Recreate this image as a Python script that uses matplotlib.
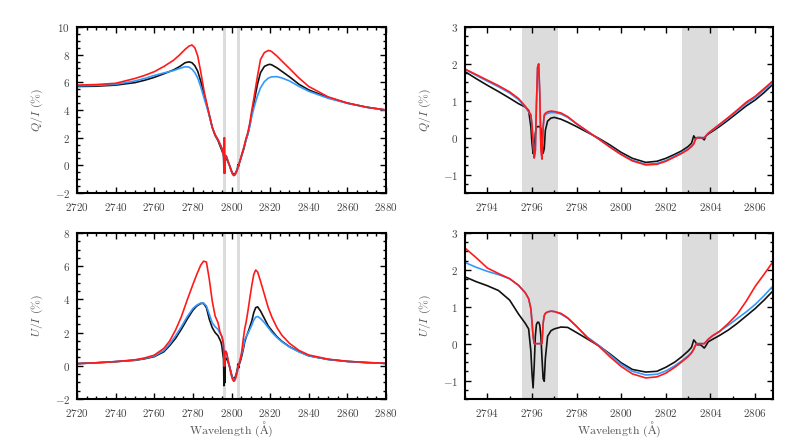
import numpy as np
import matplotlib
matplotlib.use("Agg")
import matplotlib.pyplot as plt
from matplotlib.ticker import MultipleLocator, AutoMinorLocator

plt.rcParams['font.family'] = 'serif'
plt.rcParams['font.serif'] = ['cmr10', 'DejaVu Serif']
plt.rcParams['mathtext.fontset'] = 'cm'
plt.rcParams['axes.formatter.use_mathtext'] = True
plt.rcParams['axes.unicode_minus'] = True

# --- wavelength grids (Angstrom) ---
wl_q_left = [2720, 2730, 2740, 2750, 2755, 2760, 2765, 2770, 2773, 2776, 2778, 2779.5,
             2781, 2782.5, 2784, 2786, 2788, 2790, 2791.5]
wl_u_left = [2720, 2730, 2740, 2750, 2755, 2760, 2765, 2768, 2771, 2774, 2777, 2780,
             2782, 2784, 2785.5, 2787, 2788.5, 2790, 2791.5]
wl_core = [2793.0, 2793.5, 2794.0, 2794.5, 2795.0, 2795.4, 2795.7, 2795.85, 2795.95,
           2796.0, 2796.05, 2796.1, 2796.15, 2796.2, 2796.25, 2796.3, 2796.35, 2796.4,
           2796.45, 2796.5, 2796.55, 2796.6, 2796.7, 2796.85, 2797.0, 2797.3, 2797.6,
           2798.0, 2798.5, 2799.0, 2799.5, 2800.0, 2800.5, 2801.1, 2801.6, 2802.0,
           2802.4, 2802.7, 2803.0, 2803.15, 2803.25, 2803.32, 2803.4, 2803.55, 2803.65,
           2803.72, 2803.8, 2803.9, 2804.1, 2804.4, 2804.8, 2805.2, 2805.6, 2806.0,
           2806.4, 2806.8]
wl_q_right = [2807.5, 2808.5, 2809.5, 2810.5, 2811.5, 2812.5, 2813.5, 2815, 2817, 2819,
              2820, 2821, 2823.5, 2826, 2830, 2835, 2840, 2850, 2860, 2870, 2880]
wl_u_right = [2807.5, 2808.5, 2809.5, 2810.5, 2811.5, 2812.5, 2813.5, 2815, 2817, 2819,
              2821, 2823.5, 2826, 2830, 2835, 2840, 2850, 2860, 2870, 2880]

# --- Q/I (%) ---
q_red_left = [5.80, 5.84, 5.93, 6.28, 6.50, 6.77, 7.15, 7.60, 7.97, 8.39, 8.62, 8.70,
              8.50, 7.90, 6.80, 5.20, 3.95, 2.75, 2.22]
q_black_left = [5.70, 5.72, 5.80, 5.98, 6.15, 6.36, 6.62, 6.90, 7.13, 7.42, 7.48, 7.42,
                7.20, 6.80, 6.10, 5.00, 3.90, 2.75, 2.15]
q_blue_left = [5.75, 5.78, 5.86, 6.10, 6.28, 6.50, 6.68, 6.85, 7.00, 7.13, 7.10, 6.95,
               6.70, 6.30, 5.70, 4.75, 3.85, 2.75, 2.20]

q_red_core = [1.86, 1.71, 1.56, 1.41, 1.24, 1.06, 0.85, 0.72, 0.62,
              0.35, -0.10, -0.55, -0.35, 0.90, 1.90, 2.00, 1.20, -0.30,
              -0.58, 0.30, 0.62, 0.66, 0.70, 0.72, 0.71, 0.67, 0.57,
              0.38, 0.17, -0.04, -0.26, -0.46, -0.63, -0.74, -0.72, -0.64,
              -0.52, -0.43, -0.32, -0.24, -0.17, -0.05, 0.00, 0.00, 0.00,
              0.00, 0.05, 0.12, 0.22, 0.36, 0.55, 0.75, 0.96, 1.12,
              1.33, 1.54]
q_blue_core = [1.85, 1.69, 1.53, 1.38, 1.21, 1.03, 0.83, 0.70, 0.60,
               0.33, -0.10, -0.55, -0.35, 0.90, 1.90, 2.00, 1.20, -0.30,
               -0.58, 0.28, 0.58, 0.62, 0.66, 0.68, 0.68, 0.64, 0.55,
               0.37, 0.16, -0.04, -0.25, -0.45, -0.61, -0.72, -0.70, -0.62,
               -0.50, -0.41, -0.30, -0.23, -0.16, -0.05, 0.00, 0.00, 0.00,
               0.00, 0.05, 0.12, 0.21, 0.34, 0.53, 0.72, 0.92, 1.08,
               1.29, 1.50]
q_black_core = [1.79, 1.60, 1.42, 1.25, 1.07, 0.92, 0.83, 0.74, 0.30,
                -0.15, -0.43, -0.30, 0.10, 0.28, 0.30, 0.30, 0.30, 0.25,
                -0.10, -0.42, -0.30, 0.20, 0.45, 0.53, 0.55, 0.50, 0.42,
                0.30, 0.14, -0.02, -0.20, -0.40, -0.56, -0.67, -0.64, -0.56,
                -0.45, -0.36, -0.24, -0.15, 0.05, -0.02, 0.00, 0.00, -0.02,
                -0.06, 0.05, 0.10, 0.18, 0.30, 0.48, 0.67, 0.86, 1.02,
                1.22, 1.45]

q_red_right = [1.95, 2.40, 3.10, 4.00, 4.80, 5.65, 6.50, 7.65, 8.15, 8.30, 8.28, 8.20,
               7.90, 7.55, 7.00, 6.30, 5.70, 4.95, 4.50, 4.20, 4.00]
q_black_right = [1.85, 2.30, 2.95, 3.75, 4.45, 5.20, 5.90, 6.70, 7.15, 7.28, 7.30, 7.25,
                 7.05, 6.80, 6.40, 5.85, 5.45, 4.90, 4.50, 4.20, 4.00]
q_blue_right = [1.85, 2.25, 2.85, 3.55, 4.10, 4.60, 5.05, 5.60, 6.05, 6.30, 6.36, 6.40,
                6.41, 6.32, 6.10, 5.70, 5.35, 4.85, 4.48, 4.20, 3.98]

# --- U/I (%) ---
u_red_left = [0.13, 0.18, 0.25, 0.36, 0.47, 0.64, 1.05, 1.50, 2.15, 2.95, 3.95, 4.90,
              5.50, 6.05, 6.30, 6.25, 5.20, 3.90, 3.00]
u_blue_left = [0.13, 0.18, 0.25, 0.34, 0.44, 0.58, 0.92, 1.32, 1.80, 2.35, 2.95, 3.45,
               3.65, 3.78, 3.78, 3.60, 3.10, 2.60, 2.35]
u_black_left = [0.13, 0.18, 0.25, 0.33, 0.42, 0.55, 0.85, 1.22, 1.65, 2.20, 2.80, 3.35,
                3.60, 3.75, 3.76, 3.50, 2.80, 2.30, 2.00]

u_red_core = [2.59, 2.33, 2.05, 1.90, 1.76, 1.58, 1.38, 1.22, 0.95,
              0.60, 0.20, 0.00, 0.00, 0.00, 0.00, 0.00, 0.00, 0.00,
              0.00, 0.55, 0.76, 0.82, 0.86, 0.88, 0.87, 0.82, 0.70,
              0.47, 0.15, -0.07, -0.36, -0.62, -0.82, -0.93, -0.90, -0.80,
              -0.64, -0.50, -0.35, -0.25, -0.15, -0.05, 0.00, 0.00, 0.00,
              0.00, 0.05, 0.12, 0.22, 0.33, 0.55, 0.80, 1.15, 1.55,
              1.88, 2.22]
u_blue_core = [2.20, 2.07, 1.96, 1.87, 1.76, 1.58, 1.38, 1.22, 0.95,
               0.60, 0.20, 0.00, 0.00, 0.00, 0.00, 0.00, 0.00, 0.00,
               0.00, 0.55, 0.76, 0.82, 0.86, 0.88, 0.87, 0.80, 0.69,
               0.46, 0.17, -0.05, -0.31, -0.56, -0.75, -0.85, -0.83, -0.74,
               -0.60, -0.47, -0.33, -0.24, -0.15, -0.05, 0.00, 0.00, 0.00,
               0.00, 0.05, 0.12, 0.21, 0.33, 0.50, 0.68, 0.86, 1.06,
               1.30, 1.56]
u_black_core = [1.81, 1.68, 1.57, 1.44, 1.18, 0.80, 0.55, 0.40, -0.20,
                -0.80, -1.20, -0.60, 0.20, 0.52, 0.58, 0.58, 0.50, 0.20,
                -0.40, -0.95, -1.02, -0.40, 0.20, 0.35, 0.40, 0.45, 0.44,
                0.30, 0.12, -0.06, -0.28, -0.52, -0.70, -0.77, -0.75, -0.64,
                -0.50, -0.36, -0.20, -0.10, 0.10, 0.05, -0.03, -0.03, -0.08,
                -0.12, -0.05, 0.05, 0.12, 0.22, 0.37, 0.55, 0.75, 0.95,
                1.18, 1.43]

u_red_right = [2.60, 3.30, 4.10, 4.85, 5.50, 5.77, 5.65, 5.10, 4.30, 3.50, 2.90, 2.30,
               1.85, 1.35, 0.92, 0.65, 0.40, 0.27, 0.20, 0.15]
u_black_right = [1.70, 2.00, 2.35, 2.70, 3.20, 3.50, 3.55, 3.30, 2.85, 2.40, 2.10, 1.75,
                 1.48, 1.15, 0.85, 0.60, 0.38, 0.26, 0.19, 0.14]
u_blue_right = [1.75, 1.95, 2.20, 2.45, 2.75, 2.93, 2.97, 2.85, 2.60, 2.30, 2.00, 1.70,
                1.45, 1.13, 0.83, 0.60, 0.38, 0.26, 0.19, 0.14]

bands = [(2795.55, 2797.15), (2802.72, 2804.33)]

wl_q = np.array(wl_q_left + wl_core + wl_q_right)
wl_u = np.array(wl_u_left + wl_core + wl_u_right)
q_series = {
    'black': q_black_left + q_black_core + q_black_right,
    'blue': q_blue_left + q_blue_core + q_blue_right,
    'red': q_red_left + q_red_core + q_red_right,
}
u_series = {
    'black': u_black_left + u_black_core + u_black_right,
    'blue': u_blue_left + u_blue_core + u_blue_right,
    'red': u_red_left + u_red_core + u_red_right,
}
colors = {'black': '#111111', 'blue': '#3399ff', 'red': '#ff1a1a'}

fig = plt.figure(figsize=(8.1, 4.44), dpi=100)
ax_ql = fig.add_axes([0.0951, 0.5653, 0.3815, 0.3739])
ax_qr = fig.add_axes([0.5741, 0.5653, 0.3802, 0.3739])
ax_ul = fig.add_axes([0.0951, 0.1014, 0.3815, 0.3739])
ax_ur = fig.add_axes([0.5741, 0.1014, 0.3802, 0.3739])

label_col = '#555555'
tick_col = '#444444'


def draw(ax, wl, series, xlim, ylim, xmaj, xminor, ymaj, yminor, ylabel, xlabel=None):
    for lo, hi in bands:
        ax.axvspan(lo, hi, color='#dcdcdc', lw=0, zorder=0)
    for name in ['black', 'blue', 'red']:
        ax.plot(wl, series[name], color=colors[name], lw=1.2, zorder=2)
    ax.set_xlim(*xlim)
    ax.set_ylim(*ylim)
    ax.xaxis.set_major_locator(MultipleLocator(xmaj))
    ax.xaxis.set_minor_locator(AutoMinorLocator(xminor))
    ax.yaxis.set_major_locator(MultipleLocator(ymaj))
    ax.yaxis.set_minor_locator(AutoMinorLocator(yminor))
    ax.tick_params(which='both', direction='in', top=True, right=True,
                   labelsize=8, labelcolor=tick_col, width=1.0)
    ax.tick_params(which='major', length=4)
    ax.tick_params(which='minor', length=2)
    ax.tick_params(axis='x', pad=6)
    ax.tick_params(axis='y', pad=5)
    for sp in ax.spines.values():
        sp.set_linewidth(1.5)
    ax.set_ylabel(ylabel, fontsize=8.5, color=label_col, labelpad=7)
    if xlabel:
        ax.set_xlabel(xlabel, fontsize=8.5, color=label_col, labelpad=0)


draw(ax_ql, wl_q, q_series, (2720, 2880), (-2, 10), 20, 4, 2, 4, r'$Q/I$ (%)')
draw(ax_qr, wl_q, q_series, (2793, 2806.8), (-1.5, 3), 2, 2, 1, 4, r'$Q/I$ (%)')
draw(ax_ul, wl_u, u_series, (2720, 2880), (-2, 8), 20, 4, 2, 4, r'$U/I$ (%)',
     r'Wavelength ($\mathrm{\AA}$)')
draw(ax_ur, wl_u, u_series, (2793, 2806.8), (-1.5, 3), 2, 2, 1, 4, r'$U/I$ (%)',
     r'Wavelength ($\mathrm{\AA}$)')

fig.savefig('out.png', dpi=100)
